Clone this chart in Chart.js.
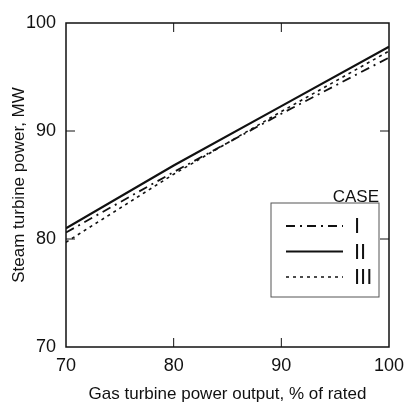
<!DOCTYPE html>
<html lang="en">
<head>
    <meta charset="UTF-8" />
    <title>Steam turbine power vs gas turbine output</title>
    <script src="https://cdn.jsdelivr.net/npm/chart.js"></script>
    <style>
        body {
            margin: 0;
            padding: 0;
            background-color: #fff;
        }

        .chart-container {
            width: 406px;
            height: 403px;
            position: relative;
        }
    </style>
</head>
<body>
    <div class="chart-container">
        <canvas id="steamChart"></canvas>
    </div>

    <script>
        // values
        const gasTurbineOutput = [70, 80, 90, 100];
        const caseI = [80.6, 86.2, 91.6, 96.8];
        const caseII = [81.0, 86.8, 92.3, 97.8];
        const caseIII = [79.7, 86.0, 91.8, 97.4];

        const caseLabels = ['I', 'II', 'III'];
        const xTicks = [70, 80, 90, 100];
        const yTicks = [70, 80, 90, 100];

        const FONT = "'Liberation Sans', Arial, sans-serif";
        const lineStyles = [
            { dash: [9, 5, 2, 5], width: 1.8 },
            { dash: [], width: 2.2 },
            { dash: [3, 4], width: 1.6 }
        ];

        const toPoints = (ys) => gasTurbineOutput.map((x, i) => ({ x: x, y: ys[i] }));

        const datasets = [caseI, caseII, caseIII].map((ys, index) => ({
            label: caseLabels[index],
            data: toPoints(ys),
            borderColor: '#111',
            borderWidth: lineStyles[index].width,
            borderDash: lineStyles[index].dash,
            pointRadius: 0,
            fill: false,
            tension: 0
        }));

        // frame with inward ticks on all four sides
        const framePlugin = {
            id: 'frame',
            afterDraw(chart) {
                const { ctx, chartArea: a, scales } = chart;
                ctx.save();
                ctx.strokeStyle = '#111';
                ctx.lineWidth = 1.5;
                ctx.strokeRect(a.left, a.top, a.right - a.left, a.bottom - a.top);
                ctx.lineWidth = 1;
                const len = 9;
                [80, 90].forEach(v => {
                    const px = scales.x.getPixelForValue(v);
                    ctx.beginPath();
                    ctx.moveTo(px, a.bottom); ctx.lineTo(px, a.bottom - len);
                    ctx.moveTo(px, a.top); ctx.lineTo(px, a.top + len);
                    const py = scales.y.getPixelForValue(v);
                    ctx.moveTo(a.left, py); ctx.lineTo(a.left + len, py);
                    ctx.moveTo(a.right, py); ctx.lineTo(a.right - len, py);
                    ctx.stroke();
                });
                ctx.restore();
            }
        };

        // legend box drawn inside the plot area
        const caseLegend = {
            id: 'caseLegend',
            afterDraw(chart) {
                const { ctx } = chart;
                const box = { x: 271, y: 203, w: 108, h: 94 };
                ctx.save();
                ctx.strokeStyle = '#555';
                ctx.lineWidth = 1;
                ctx.strokeRect(box.x, box.y, box.w, box.h);
                ctx.fillStyle = '#111';
                ctx.font = '17px ' + FONT;
                ctx.textAlign = 'right';
                ctx.textBaseline = 'alphabetic';
                ctx.fillText('CASE', box.x + box.w, box.y - 1);
                chart.data.datasets.forEach((ds, i) => {
                    const y = box.y + 23 + i * 25.5;
                    ctx.beginPath();
                    ctx.strokeStyle = '#111';
                    ctx.lineWidth = ds.borderWidth;
                    ctx.setLineDash(ds.borderDash);
                    ctx.moveTo(box.x + 15, y);
                    ctx.lineTo(box.x + 72, y);
                    ctx.stroke();
                    ctx.setLineDash([]);
                    ctx.font = "22px 'Liberation Sans Narrow', " + FONT;
                    ctx.textAlign = 'left';
                    ctx.textBaseline = 'middle';
                    ctx.fillText(ds.label, box.x + 83, y + 1);
                });
                ctx.restore();
            }
        };

        const ctx = document.getElementById('steamChart').getContext('2d');

        new Chart(ctx, {
            type: 'line',
            data: { datasets: datasets },
            options: {
                responsive: true,
                maintainAspectRatio: false,
                animation: false,
                layout: { padding: { top: 23, right: 17, left: 0, bottom: 0 } },
                plugins: {
                    legend: { display: false },
                    tooltip: { enabled: false }
                },
                scales: {
                    x: {
                        type: 'linear',
                        min: 70,
                        max: 100,
                        afterBuildTicks: (s) => { s.ticks = xTicks.map(v => ({ value: v })); },
                        afterFit: (s) => { s.height = 56; },
                        grid: { display: false },
                        border: { display: false },
                        ticks: {
                            color: '#111',
                            padding: 0,
                            font: { family: FONT, size: 18 }
                        },
                        title: {
                            display: true,
                            text: 'Gas turbine power output, % of rated',
                            color: '#111',
                            padding: { top: 0, bottom: 0 },
                            font: { family: FONT, size: 17, lineHeight: 1 }
                        }
                    },
                    y: {
                        type: 'linear',
                        min: 70,
                        max: 100,
                        afterBuildTicks: (s) => { s.ticks = yTicks.map(v => ({ value: v })); },
                        afterFit: (s) => { s.width = 66; },
                        grid: { display: false },
                        border: { display: false },
                        ticks: {
                            color: '#111',
                            padding: 2,
                            font: { family: FONT, size: 18 }
                        },
                        title: {
                            display: true,
                            text: 'Steam turbine power, MW',
                            color: '#111',
                            padding: { top: 11, bottom: 0 },
                            font: { family: FONT, size: 17, lineHeight: 1 }
                        }
                    }
                }
            },
            plugins: [framePlugin, caseLegend]
        });
    </script>
</body>
</html>
